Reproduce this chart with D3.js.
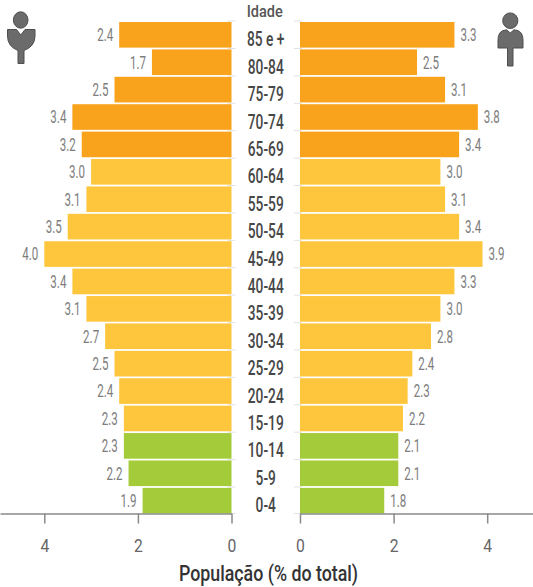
<!DOCTYPE html>
<html><head><meta charset="utf-8">
<script src="https://cdn.jsdelivr.net/npm/d3@7"></script>
<style>html,body{margin:0;padding:0;background:#fff;overflow:hidden}</style>
</head><body>
<svg id="c" width="533" height="587"></svg>
<script>
// Faixas etárias (de cima para baixo)
const ages = ["85 e +","80-84","75-79","70-74","65-69","60-64","55-59","50-54","45-49","40-44","35-39","30-34","25-29","20-24","15-19","10-14","5-9","0-4"];
// Lado esquerdo (% do total)
const leftValues = [2.4,1.7,2.5,3.4,3.2,3.0,3.1,3.5,4.0,3.4,3.1,2.7,2.5,2.4,2.3,2.3,2.2,1.9];
// Lado direito (% do total)
const rightValues = [3.3,2.5,3.1,3.8,3.4,3.0,3.1,3.4,3.9,3.3,3.0,2.8,2.4,2.3,2.2,2.1,2.1,1.8];
// Grupo de cada faixa
const groups = ["65+","65+","65+","65+","65+","15-64","15-64","15-64","15-64","15-64","15-64","15-64","15-64","15-64","15-64","0-14","0-14","0-14"];
const groupNames = ["65+","15-64","0-14"];
const groupColors = ["#F8A31B","#FEC63D","#A4CB3A"];
const tickValues = [0,2,4];
const axisTitle = "População (% do total)";
const ageTitle = "Idade";

const svg = d3.select("#c");
const FONT = "Roboto,'DejaVu Sans Condensed',sans-serif";
const unit = 46.8;
const x0L = 231.5, x0R = 300, W = 533, axisY = 513.5;
const xL = d3.scaleLinear().domain([0, x0L/unit]).range([x0L, 0]);
const xR = d3.scaleLinear().domain([0, (W-x0R)/unit]).range([x0R, W]);
const y = d3.scaleBand().domain(ages).range([22, axisY]).paddingInner(0.065).paddingOuter(0);
const color = d3.scaleOrdinal().domain(groupNames).range(groupColors);
const rows = ages.map((a,i)=>({age:a, l:leftValues[i], r:rightValues[i], g:groups[i]}));

function stext(g, x, yy, s, size, sx, fill, anchor, weight){
  return g.append("text").attr("transform",`translate(${x},${yy}) scale(${sx},1)`)
    .attr("text-anchor",anchor).attr("font-family",FONT).attr("font-size",size)
    .attr("font-weight",weight||"normal").attr("fill",fill).attr("xml:space","preserve").text(s);
}

// faint band ticks
const bt = svg.append("g");
const bounds = ages.map(a=>y(a)-(y.step()-y.bandwidth())/2).concat([axisY]);
bounds.forEach(b=>{
  bt.append("line").attr("x1",x0L-4).attr("x2",x0L+4).attr("y1",b).attr("y2",b).attr("stroke","#e2e2e2");
  bt.append("line").attr("x1",x0R-6).attr("x2",x0R+2).attr("y1",b).attr("y2",b).attr("stroke","#e2e2e2");
});

// bars
svg.append("g").selectAll("rect").data(rows).join("rect")
  .attr("x",d=>xL(d.l)).attr("width",d=>xL(0)-xL(d.l))
  .attr("y",d=>y(d.age)).attr("height",y.bandwidth()).attr("fill",d=>color(d.g));
svg.append("g").selectAll("rect").data(rows).join("rect")
  .attr("x",xR(0)).attr("width",d=>xR(d.r)-xR(0))
  .attr("y",d=>y(d.age)).attr("height",y.bandwidth()).attr("fill",d=>color(d.g));

// value labels
const vl = svg.append("g");
rows.forEach(d=>{
  const cy = y(d.age)+y.bandwidth()/2+6.3;
  stext(vl, xL(d.l)-6, cy, d.l.toFixed(1), 17.5, 0.66, "#7d7d7d", "end", 400);
  stext(vl, xR(d.r)+6, cy, d.r.toFixed(1), 17.5, 0.66, "#7d7d7d", "start", 400);
});

// age labels
const al = svg.append("g");
const cx = (x0L+x0R)/2;
rows.forEach(d=>{
  stext(al, cx, y(d.age)+y.bandwidth()/2+11.5, d.age, 20.5, 0.67, "#474747", "middle", 500);
});
stext(al, cx-1, 16.5, ageTitle, 16.5, 0.88, "#555", "middle", 500);

// axes
function axisWithScaledText(scale){
  const g = svg.append("g").attr("transform",`translate(0,${axisY})`)
    .call(d3.axisBottom(scale).tickValues(tickValues).tickSize(10).tickSizeOuter(0).tickFormat(d3.format("d")));
  g.select(".domain").attr("stroke","#8a8a8a").attr("stroke-width",1.5);
  g.selectAll(".tick line").attr("stroke","#8a8a8a").attr("stroke-width",1.5);
  g.selectAll(".tick text").attr("font-family",FONT).attr("font-size",18.5).attr("fill","#666")
    .attr("y",0).attr("dy",0).attr("transform","translate(0,38) scale(0.85,1)");
  return g;
}
axisWithScaledText(xL);
axisWithScaledText(xR);

stext(svg, 268.5, 581, axisTitle, 22, 0.81, "#333", "middle", 500);

// icons
const ic = svg.append("g").attr("fill","#6b6b6b").attr("stroke","#4f4f4f").attr("stroke-width",1);
ic.append("ellipse").attr("cx",20.7).attr("cy",20).attr("rx",7.3).attr("ry",8.2);
ic.append("path").attr("d","M7.5,29.5 L16.5,29.5 L20.8,35 L25,29.5 L35,29.5 L35,36 Q35,46.5 24,50.5 L24,63.5 L18,63.5 L18,50.5 Q7.5,46.5 7.5,36 Z");
ic.append("ellipse").attr("cx",510.3).attr("cy",20.7).attr("rx",7.6).attr("ry",7.8);
ic.append("path").attr("d","M498,48 L498,39.5 Q498,30.5 506.5,29.8 L510.3,33 L514,29.8 Q523,30.5 523,39.5 L523,48 L513,48 L513,66 L507.5,66 L507.5,48 Z");
</script>
</body></html>
